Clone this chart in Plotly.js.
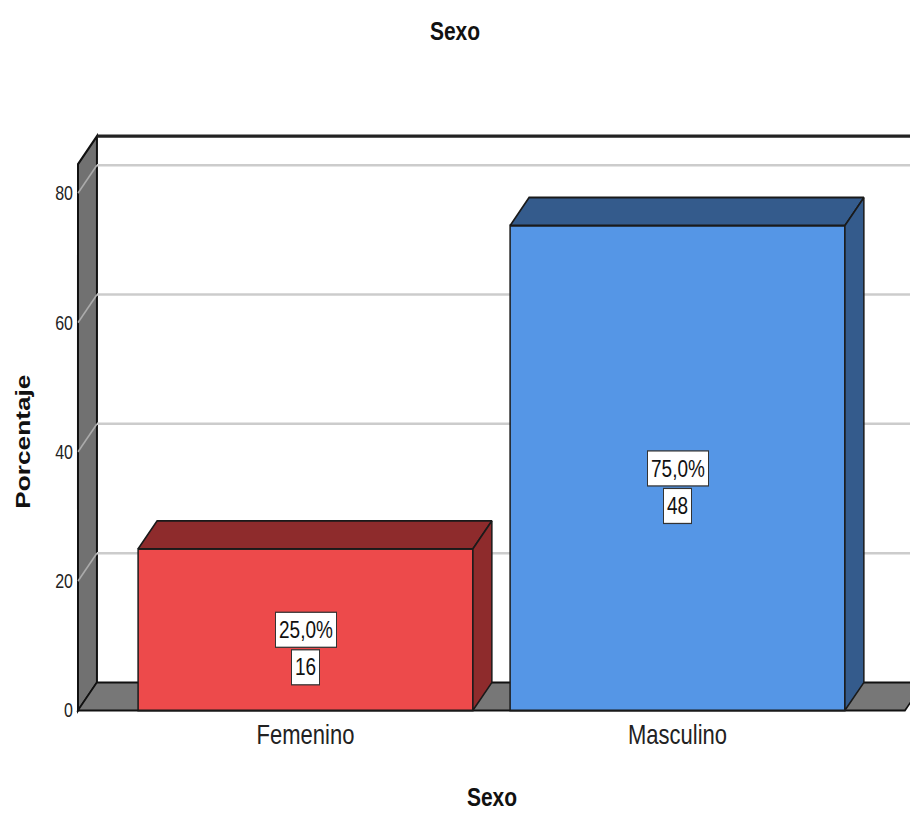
<!DOCTYPE html>
<html>
<head>
<meta charset="utf-8">
<script src="https://cdn.plot.ly/plotly-3.0.1.min.js"></script>
<style>
  html, body { margin: 0; padding: 0; background: #fff; }
  #frame { width: 910px; height: 813px; position: relative; }
  #chart { position: absolute; left: 0; top: 0; width: 910px; height: 650px; transform: scaleY(1.2508); transform-origin: 0 0; }
</style>
</head>
<body>
<div id="frame"><div id="chart"></div></div>
<script>
// Frequencies of the variable "Sexo"
const categories = ['Femenino', 'Masculino'];
const percents = [25.0, 75.0];
const counts = [16, 48];
const yTicks = [0, 20, 40, 60, 80];

// Colours: front face and the darker top/side faces of each bar
const frontColors = ['#ED4A4B', '#5596E6'];
const sideColors = ['#8E2B2C', '#345B8C'];

// Geometry of the pseudo-3D frame (axis units)
const barWidth = 0.9;
const depthX = 0.051;   // horizontal depth offset
const depthY = 4.33;    // vertical depth offset
const wallTop = 84.5;
const frameLeft = -0.6116;
const frameRight = 1.6116;
const xRange = [-0.6223, 1.625];
const yRange = [-0.77, 90.15];
const S = 813 / 650;    // vertical stretch applied to the chart div

const font = 'Liberation Sans, Arial, sans-serif';

const shapes = [];
// left wall
shapes.push({
  type: 'path', layer: 'below', xref: 'x', yref: 'y',
  path: `M ${frameLeft},0 L ${frameLeft},${wallTop} L ${frameLeft + depthX},${wallTop + depthY} L ${frameLeft + depthX},${depthY} Z`,
  fillcolor: '#717171', line: { color: '#111', width: 2 }
});
// floor
shapes.push({
  type: 'path', layer: 'below', xref: 'x', yref: 'y',
  path: `M ${frameLeft},0 L ${frameRight},0 L ${frameRight + depthX},${depthY} L ${frameLeft + depthX},${depthY} Z`,
  fillcolor: '#777777', line: { color: '#111', width: 1.5 }
});
// top edge of the back wall
shapes.push({
  type: 'line', layer: 'below', xref: 'x', yref: 'y',
  x0: frameLeft + depthX, y0: wallTop + depthY, x1: xRange[1] + 0.2, y1: wallTop + depthY,
  line: { color: '#222', width: 2.5 }
});
// grid lines: diagonal across the side wall, then along the back wall
yTicks.filter(v => v > 0).forEach(v => {
  shapes.push({
    type: 'line', layer: 'below', xref: 'x', yref: 'y',
    x0: frameLeft, y0: v, x1: frameLeft + depthX, y1: v + depthY,
    line: { color: '#ababab', width: 1.5 }
  });
  shapes.push({
    type: 'line', layer: 'below', xref: 'x', yref: 'y',
    x0: frameLeft + depthX, y0: v + depthY, x1: xRange[1] + 0.2, y1: v + depthY,
    line: { color: '#cccccc', width: 2 }
  });
});

const xs = categories.map((_, i) => i);

const traces = [{
  type: 'bar',
  x: xs,
  y: percents,
  width: barWidth,
  marker: { color: frontColors, line: { color: '#1a1a1a', width: 1.5 } },
  hoverinfo: 'skip',
  showlegend: false
}];

// top and side faces of each bar
percents.forEach((v, i) => {
  const l = i - barWidth / 2, r = i + barWidth / 2;
  traces.push({
    type: 'scatter', mode: 'lines', fill: 'toself',
    x: [l, r, r + depthX, l + depthX, l],
    y: [v, v, v + depthY, v + depthY, v],
    fillcolor: sideColors[i], line: { color: '#1a1a1a', width: 1.5 },
    hoverinfo: 'skip', showlegend: false
  });
  traces.push({
    type: 'scatter', mode: 'lines', fill: 'toself',
    x: [r, r + depthX, r + depthX, r, r],
    y: [0, depthY, v + depthY, v, 0],
    fillcolor: sideColors[i], line: { color: '#1a1a1a', width: 1.5 },
    hoverinfo: 'skip', showlegend: false
  });
});

const fmtPct = p => p.toFixed(1).replace('.', ',') + '%';

const annotations = [];
percents.forEach((v, i) => {
  annotations.push({
    x: i, y: v / 2, xref: 'x', yref: 'y', text: fmtPct(v), showarrow: false,
    bgcolor: '#fff', bordercolor: '#333', borderwidth: 1, borderpad: 3,
    font: { family: font, size: 19, color: '#111' }
  });
  annotations.push({
    x: i, y: v / 2, xref: 'x', yref: 'y', yshift: -30, text: String(counts[i]), showarrow: false,
    bgcolor: '#fff', bordercolor: '#333', borderwidth: 1, borderpad: 3,
    font: { family: font, size: 19, color: '#111' }
  });
});
// y axis title
annotations.push({
  xref: 'paper', yref: 'paper', x: (23 - 74) / 836, y: (716 - 443) / 588,
  xanchor: 'center', yanchor: 'middle',
  text: '<b>Porcentaje</b>', textangle: -90, showarrow: false,
  font: { family: font, size: 21, color: '#111' }
});

const layout = {
  width: 910, height: 650,
  margin: { l: 74, r: 0, t: 128 / S, b: 650 - 716 / S, pad: 0 },
  paper_bgcolor: '#fff', plot_bgcolor: '#fff',
  title: {
    text: '<b>Sexo</b>', x: 0.5, xref: 'container', y: 1 - (31 / S) / 650, yref: 'container',
    yanchor: 'middle', font: { family: font, size: 21, color: '#111' }
  },
  xaxis: {
    range: xRange, tickvals: xs, ticktext: categories,
    showgrid: false, zeroline: false, showline: false, ticks: '',
    tickfont: { family: font, size: 22, color: '#222' },
    title: { text: '<b>Sexo</b>', standoff: 30, font: { family: font, size: 21, color: '#111' } }
  },
  yaxis: {
    range: yRange, tickvals: yTicks,
    showgrid: false, zeroline: false, showline: false, ticks: '',
    tickfont: { family: font, size: 16, color: '#222' }
  },
  shapes: shapes,
  annotations: annotations,
  bargap: 0
};

Plotly.newPlot('chart', traces, layout, { displayModeBar: false, staticPlot: true });
</script>
</body>
</html>
